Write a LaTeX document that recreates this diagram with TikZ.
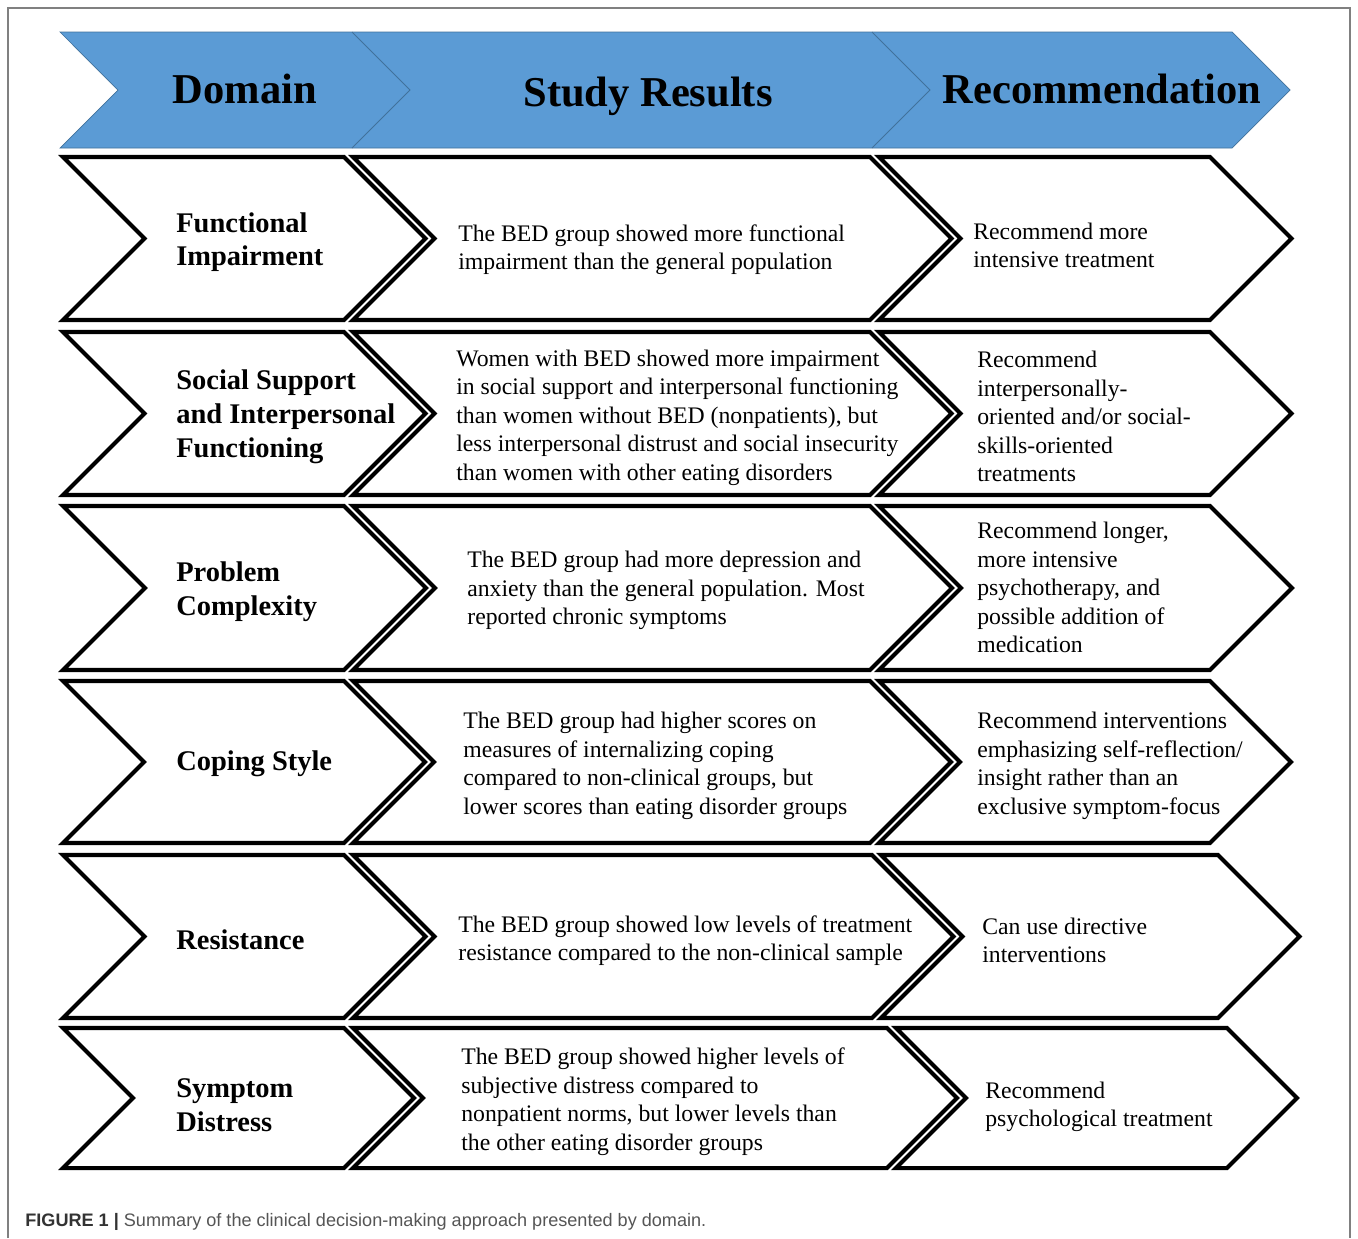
\documentclass[tikz,border=0pt]{standalone}
\usepackage{fontspec}
\setmainfont{Liberation Serif}
\setsansfont{Liberation Sans}

\definecolor{hdrblue}{HTML}{5B9BD5}
\definecolor{hdredge}{HTML}{41719C}
\definecolor{capgray}{HTML}{555555}

% one arrow-shaped box: left x, right x, top y, bottom y
\newcommand{\chevbox}[4]{%
  \draw[chev] (#1,#3) -- (#2,#3) -- ({#2+(#4-#3)/2},{(#3+#4)/2}) -- (#2,#4)
    -- (#1,#4) -- ({#1+(#4-#3)/2},{(#3+#4)/2}) -- cycle;}

\begin{document}
\begin{tikzpicture}[x=0.02cm,y=-0.02cm]
		\tikzset{chev/.style = {line width=2.3pt, fill=white}}
		\tikzset{hdr/.style = {font=\fontsize{24.2}{29}\selectfont\bfseries, anchor=base}}
		\tikzset{domtext/.style = {font=\fontsize{16.2}{19.3}\selectfont\bfseries, align=left, anchor=west, inner sep=0pt, yshift=-1.2pt}}
		\tikzset{bodytext/.style = {font=\fontsize{13.5}{16.2}\selectfont, align=left, anchor=west, inner sep=0pt, yshift=-1.5pt}}
		
		\useasboundingbox (0,0) rectangle (1358,1238);
		\draw[gray, line width=0.8pt] (8,1238) -- (8,8) -- (1350,8) -- (1350,1238);
		
		% header band
		\draw[fill=hdrblue, draw=hdredge, line width=0.4pt]
		  (60,32) -- (1232,32) -- (1290,90) -- (1232,148) -- (60,148) -- (118,90) -- cycle;
		\draw[hdredge, line width=0.5pt] (352,32) -- (410,90) -- (352,148);
		\draw[hdredge, line width=0.5pt] (872,32) -- (930,90) -- (872,148);
		
		\node[hdr] (hdom) at ( 245, 103) {Domain};
		\node[hdr] (hres) at ( 648, 106) {Study Results};
		\node[hdr] (hrec) at (1102, 103) {Recommendation};
		
		% rows: top / bottom / right of middle box / left and right of last box
		\foreach \t/\b/\bx/\cl/\cr in {157/320/870/879/1210, 332/495/870/879/1210,
		    506/670/870/879/1210, 681/843/870/879/1210, 855/1018/872/881/1218,
		    1028/1168/887/896/1227} {
		  \chevbox{63}{344}{\t}{\b}
		  \chevbox{353}{\bx}{\t}{\b}
		  \chevbox{\cl}{\cr}{\t}{\b}
		}
		
		\node[domtext]  (dom1) at ( 176,  240) {Functional\\Impairment};
		\node[domtext]  (dom2) at ( 176,  415) {Social Support\\and Interpersonal\\Functioning};
		\node[domtext]  (dom3) at ( 176,  590) {Problem\\Complexity};
		\node[domtext]  (dom4) at ( 176,  762) {Coping Style};
		\node[domtext]  (dom5) at ( 176,  938) {Resistance};
		\node[domtext]  (dom6) at ( 176, 1103) {Symptom\\Distress};
		
		\node[bodytext] (res1) at ( 458,  247) {The BED group showed more functional\\impairment than the general population};
		\node[bodytext] (res2) at ( 456,  415) {Women with BED showed more impairment\\in social support and interpersonal functioning\\than women without BED (nonpatients), but\\less interpersonal distrust and social insecurity\\than women with other eating disorders};
		\node[bodytext] (res3) at ( 467,  588) {The BED group had more depression and\\anxiety than the general population. Most\\reported chronic symptoms};
		\node[bodytext] (res4) at ( 463,  763) {The BED group had higher scores on\\measures of internalizing coping\\compared to non-clinical groups, but\\lower scores than eating disorder groups};
		\node[bodytext] (res5) at ( 458,  938) {The BED group showed low levels of treatment\\resistance compared to the non-clinical sample};
		\node[bodytext] (res6) at ( 461, 1099) {The BED group showed higher levels of\\subjective distress compared to\\nonpatient norms, but lower levels than\\the other eating disorder groups};
		
		\node[bodytext] (rec1) at ( 973,  243) {Recommend more\\intensive treatment};
		\node[bodytext] (rec2) at ( 977,  414) {Recommend\\interpersonally-\\oriented and/or social-\\skills-oriented\\treatments};
		\node[bodytext] (rec3) at ( 977,  585) {Recommend longer,\\more intensive\\psychotherapy, and\\possible addition of\\medication};
		\node[bodytext] (rec4) at ( 977,  763) {Recommend interventions\\emphasizing self-reflection/\\insight rather than an\\exclusive symptom-focus};
		\node[bodytext] (rec5) at ( 982,  938) {Can use directive\\interventions};
		\node[bodytext] (rec6) at ( 985, 1104) {Recommend\\psychological treatment};
		
		\node[anchor=base west, inner sep=0pt, font=\sffamily\fontsize{10.3}{12}\selectfont]
		  (cap) at (25,1226) {\textbf{\color{black!80}FIGURE 1 |} \color{capgray}Summary of the clinical decision-making approach presented by domain.};
\end{tikzpicture}
\end{document}
